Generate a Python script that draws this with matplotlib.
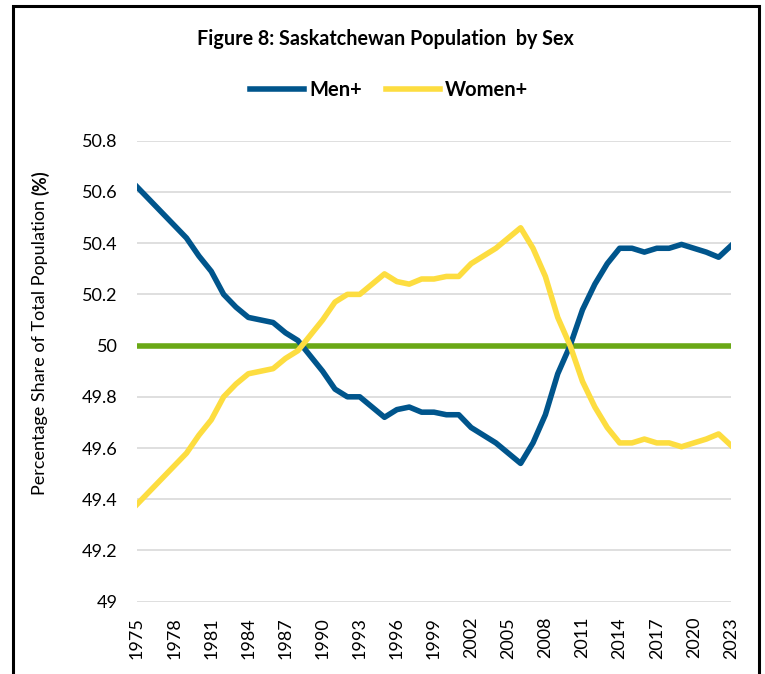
import numpy as np
import matplotlib
matplotlib.use('Agg')
import matplotlib.pyplot as plt
from matplotlib.patches import Rectangle

plt.rcParams['font.family'] = ['Lato', 'DejaVu Sans']

# Datos
anios = list(range(1975, 2024))
hombres = [50.62, 50.57, 50.52, 50.47, 50.42, 50.35, 50.29, 50.20, 50.15, 50.11,
           50.10, 50.09, 50.05, 50.02, 49.96, 49.90, 49.83, 49.80, 49.80, 49.76,
           49.72, 49.75, 49.76, 49.74, 49.74, 49.73, 49.73, 49.68, 49.65, 49.62,
           49.58, 49.54, 49.62, 49.73, 49.89, 50.00, 50.14, 50.24, 50.32, 50.38,
           50.38, 50.365, 50.38, 50.38, 50.395, 50.38, 50.365, 50.345, 50.39]
mujeres = [49.38, 49.43, 49.48, 49.53, 49.58, 49.65, 49.71, 49.80, 49.85, 49.89,
           49.90, 49.91, 49.95, 49.98, 50.04, 50.10, 50.17, 50.20, 50.20, 50.24,
           50.28, 50.25, 50.24, 50.26, 50.26, 50.27, 50.27, 50.32, 50.35, 50.38,
           50.42, 50.46, 50.38, 50.27, 50.11, 50.00, 49.86, 49.76, 49.68, 49.62,
           49.62, 49.635, 49.62, 49.62, 49.605, 49.62, 49.635, 49.655, 49.61]
referencia = 50
ticks_y = [49, 49.2, 49.4, 49.6, 49.8, 50, 50.2, 50.4, 50.6, 50.8]
etiquetas_x = anios[::3]

W, H = 765, 674
fig = plt.figure(figsize=(W / 100, H / 100), dpi=100)
ax = fig.add_axes([137 / W, 1 - 601.7 / H, (731 - 137) / W, (601.7 - 140.7) / H])

ax.axhline(referencia, color='#6aa816', lw=4, zorder=2)
ax.plot(anios, hombres, color='#00558c', lw=4, label='Men+', zorder=3)
ax.plot(anios, mujeres, color='#fddd40', lw=4, label='Women+', zorder=4)

ax.set_xlim(1975, 2023)
ax.set_ylim(49, 50.8)
ax.set_yticks(ticks_y)
ax.set_yticklabels([f'{v:g}' for v in ticks_y])
ax.set_xticks(etiquetas_x)
ax.set_xticklabels([str(a) for a in etiquetas_x], rotation=90)
ax.tick_params(axis='both', length=0, labelsize=13, colors='#000000')
ax.tick_params(axis='y', pad=14)
ax.tick_params(axis='x', pad=11)
ax.yaxis.grid(True, color='#d9d9d9', lw=1.2, zorder=0)
ax.set_axisbelow(True)
for s in ax.spines.values():
    s.set_visible(False)

# Título y leyenda
fig.text(385.5 / W, 1 - 39 / H, 'Figure 8: Saskatchewan Population  by Sex',
         ha='center', va='center', fontsize=14.2, fontweight='bold')
fig.legend(loc='center', bbox_to_anchor=(389 / W, 1 - 90 / H), ncol=2,
           frameon=False, handlelength=2.7, handletextpad=0.25,
           columnspacing=1.2, prop={'weight': 'bold', 'size': 14.5})

# Etiqueta del eje Y (con "(%)" en negrita)
t1 = fig.text(40 / W, 1 - 495 / H, 'Percentage Share of Total Population ',
              rotation=90, ha='center', va='bottom', fontsize=13)
ax.annotate('(%)', xy=(0.5, 1), xycoords=t1, rotation=90, ha='center',
            va='bottom', fontsize=13, fontweight='bold')

# Marco del gráfico
fig.patches.append(Rectangle((12.5 / W, -0.05), (758.5 - 12.5) / W, 1.05 - 5.5 / H,
                             transform=fig.transFigure, fill=False,
                             edgecolor='black', lw=2.2))

fig.savefig('out.png', dpi=100)
